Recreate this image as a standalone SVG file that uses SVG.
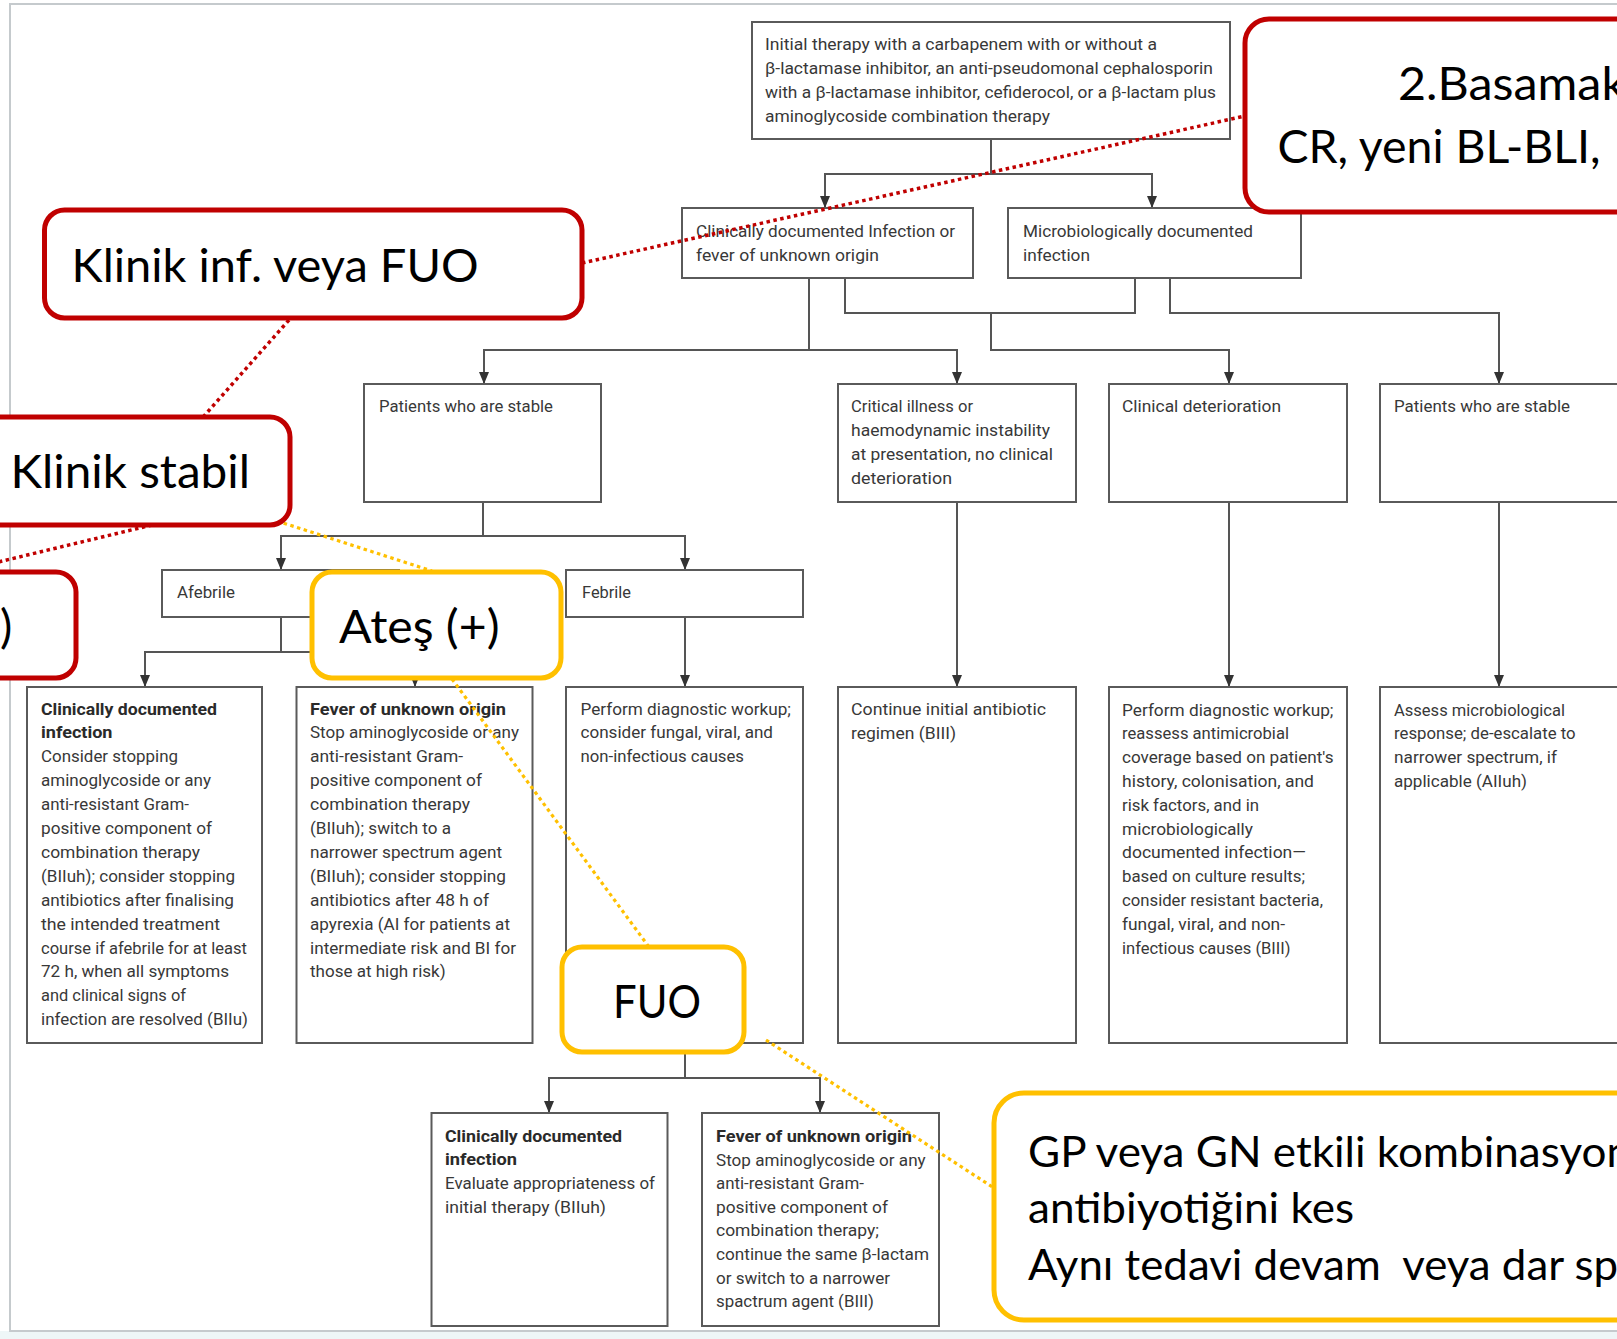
<svg xmlns="http://www.w3.org/2000/svg" width="1617" height="1339" viewBox="0 0 1617 1339">
<style>
.box{fill:#fff;stroke:#5a5a5a;stroke-width:2}
.t{font-family:"Liberation Sans Narrow","Roboto","Liberation Sans",sans-serif;font-size:16.5px;fill:#383838}
.b{font-weight:bold;fill:#2a2a2a}
.conn{fill:none;stroke:#555;stroke-width:2}
.cr{fill:#fff;stroke:#c00000;stroke-width:5}
.cy{fill:#fff;stroke:#ffc000;stroke-width:5}
.ct{font-family:Lato,"Open Sans","Noto Sans",sans-serif;font-size:46px;fill:#000}
.cs{font-size:42px}
.dr{fill:none;stroke:#c00000;stroke-width:3.5;stroke-dasharray:3.5 3.5}
.dy{fill:none;stroke:#ffc000;stroke-width:3.2;stroke-dasharray:3.5 3.5}
</style>
<defs>
<marker id="arr" viewBox="0 -5 12 10" refX="12" refY="0" markerWidth="12" markerHeight="10" markerUnits="userSpaceOnUse" orient="auto">
<path d="M0,-5 L12,0 L0,5 Z" fill="#333"/>
</marker>
</defs>
<rect x="0" y="0" width="1617" height="1339" fill="#fff"/>
<rect x="0" y="1331" width="1617" height="8" fill="#eef6f7"/>
<rect x="10" y="4" width="1620" height="1327" fill="none" stroke="#c5cacd" stroke-width="2"/>

<g id="connectors">
<path class="conn" d="M991,139 V174"/>
<path class="conn" d="M991,174 H825 V208" marker-end="url(#arr)"/>
<path class="conn" d="M991,174 H1152 V208" marker-end="url(#arr)"/>
<path class="conn" d="M809,278 V350 H484 V384" marker-end="url(#arr)"/>
<path class="conn" d="M809,350 H957 V384" marker-end="url(#arr)"/>
<path class="conn" d="M845,278 V313 H1135 V278"/>
<path class="conn" d="M991,313 V350 H1229 V384" marker-end="url(#arr)"/>
<path class="conn" d="M1170,278 V313 H1499 V384" marker-end="url(#arr)"/>
<path class="conn" d="M483,502 V536 H281 V570" marker-end="url(#arr)"/>
<path class="conn" d="M483,536 H685 V570" marker-end="url(#arr)"/>
<path class="conn" d="M281,617 V652 H145 V687" marker-end="url(#arr)"/>
<path class="conn" d="M281,652 H415 V687" marker-end="url(#arr)"/>
<path class="conn" d="M685,617 V687" marker-end="url(#arr)"/>
<path class="conn" d="M957,502 V687" marker-end="url(#arr)"/>
<path class="conn" d="M1229,502 V687" marker-end="url(#arr)"/>
<path class="conn" d="M1499,502 V687" marker-end="url(#arr)"/>
<path class="conn" d="M685,1043 V1078 H549 V1113" marker-end="url(#arr)"/>
<path class="conn" d="M685,1078 H820 V1113" marker-end="url(#arr)"/>
</g>

<g id="n-initial">
<rect class="box" x="752" y="22" width="478" height="117"/>
<text class="t" x="765" y="50" textLength="392" lengthAdjust="spacingAndGlyphs">Initial therapy with a carbapenem with or without a</text>
<text class="t" x="765" y="74" textLength="448" lengthAdjust="spacingAndGlyphs">β-lactamase inhibitor, an anti-pseudomonal cephalosporin</text>
<text class="t" x="765" y="98" textLength="451" lengthAdjust="spacingAndGlyphs">with a β-lactamase inhibitor, cefiderocol, or a β-lactam plus</text>
<text class="t" x="765" y="122" textLength="285" lengthAdjust="spacingAndGlyphs">aminoglycoside combination therapy</text>
</g>

<g id="n-clinical">
<rect class="box" x="682" y="208" width="291" height="70"/>
<text class="t" x="696" y="237" textLength="259" lengthAdjust="spacingAndGlyphs">Clinically documented Infection or</text>
<text class="t" x="696" y="261" textLength="183" lengthAdjust="spacingAndGlyphs">fever of unknown origin</text>
</g>

<g id="n-micro">
<rect class="box" x="1008" y="208" width="293" height="70"/>
<text class="t" x="1023" y="237" textLength="230" lengthAdjust="spacingAndGlyphs">Microbiologically documented</text>
<text class="t" x="1023" y="261" textLength="67" lengthAdjust="spacingAndGlyphs">infection</text>
</g>

<g id="n-stable-left">
<rect class="box" x="364" y="384" width="237" height="118"/>
<text class="t" x="379" y="412" textLength="174" lengthAdjust="spacingAndGlyphs">Patients who are stable</text>
</g>

<g id="n-critical">
<rect class="box" x="838" y="384" width="238" height="118"/>
<text class="t" x="851" y="412" textLength="122" lengthAdjust="spacingAndGlyphs">Critical illness or</text>
<text class="t" x="851" y="436" textLength="199" lengthAdjust="spacingAndGlyphs">haemodynamic instability</text>
<text class="t" x="851" y="460" textLength="202" lengthAdjust="spacingAndGlyphs">at presentation, no clinical</text>
<text class="t" x="851" y="484" textLength="101" lengthAdjust="spacingAndGlyphs">deterioration</text>
</g>

<g id="n-deterioration">
<rect class="box" x="1109" y="384" width="238" height="118"/>
<text class="t" x="1122" y="412" textLength="159" lengthAdjust="spacingAndGlyphs">Clinical deterioration</text>
</g>

<g id="n-stable-right">
<rect class="box" x="1380" y="384" width="240" height="118"/>
<text class="t" x="1394" y="412" textLength="176" lengthAdjust="spacingAndGlyphs">Patients who are stable</text>
</g>

<g id="n-afebrile">
<rect class="box" x="162" y="570" width="237" height="47"/>
<text class="t" x="177" y="598" textLength="58" lengthAdjust="spacingAndGlyphs">Afebrile</text>
</g>

<g id="n-febrile">
<rect class="box" x="566" y="570" width="237" height="47"/>
<text class="t" x="582" y="598" textLength="49" lengthAdjust="spacingAndGlyphs">Febrile</text>
</g>

<g id="n-afeb-cdi">
<rect class="box" x="27" y="687" width="235" height="356"/>
<text class="t b" x="41" y="714.5" textLength="176" lengthAdjust="spacingAndGlyphs">Clinically documented</text>
<text class="t b" x="41" y="738.4" textLength="71.5" lengthAdjust="spacingAndGlyphs">infection</text>
<text class="t" x="41" y="762.3" textLength="137" lengthAdjust="spacingAndGlyphs">Consider stopping</text>
<text class="t" x="41" y="786.2" textLength="170" lengthAdjust="spacingAndGlyphs">aminoglycoside or any</text>
<text class="t" x="41" y="810.1" textLength="148" lengthAdjust="spacingAndGlyphs">anti-resistant Gram-</text>
<text class="t" x="41" y="834" textLength="171" lengthAdjust="spacingAndGlyphs">positive component of</text>
<text class="t" x="41" y="857.9" textLength="159" lengthAdjust="spacingAndGlyphs">combination therapy</text>
<text class="t" x="41" y="881.8" textLength="194" lengthAdjust="spacingAndGlyphs">(BIIuh); consider stopping</text>
<text class="t" x="41" y="905.7" textLength="193" lengthAdjust="spacingAndGlyphs">antibiotics after finalising</text>
<text class="t" x="41" y="929.6" textLength="179" lengthAdjust="spacingAndGlyphs">the intended treatment</text>
<text class="t" x="41" y="953.5" textLength="206" lengthAdjust="spacingAndGlyphs">course if afebrile for at least</text>
<text class="t" x="41" y="977.4" textLength="188" lengthAdjust="spacingAndGlyphs">72 h, when all symptoms</text>
<text class="t" x="41" y="1001.3" textLength="145" lengthAdjust="spacingAndGlyphs">and clinical signs of</text>
<text class="t" x="41" y="1025.2" textLength="207" lengthAdjust="spacingAndGlyphs">infection are resolved (BIIu)</text>
</g>

<g id="n-afeb-fuo">
<rect class="box" x="296.5" y="687" width="236" height="356"/>
<text class="t b" x="310" y="714.5" textLength="196" lengthAdjust="spacingAndGlyphs">Fever of unknown origin</text>
<text class="t" x="310" y="738.4" textLength="209" lengthAdjust="spacingAndGlyphs">Stop aminoglycoside or any</text>
<text class="t" x="310" y="762.3" textLength="153" lengthAdjust="spacingAndGlyphs">anti-resistant Gram-</text>
<text class="t" x="310" y="786.2" textLength="172" lengthAdjust="spacingAndGlyphs">positive component of</text>
<text class="t" x="310" y="810.1" textLength="160" lengthAdjust="spacingAndGlyphs">combination therapy</text>
<text class="t" x="310" y="834" textLength="141" lengthAdjust="spacingAndGlyphs">(BIIuh); switch to a</text>
<text class="t" x="310" y="857.9" textLength="192" lengthAdjust="spacingAndGlyphs">narrower spectrum agent</text>
<text class="t" x="310" y="881.8" textLength="196" lengthAdjust="spacingAndGlyphs">(BIIuh); consider stopping</text>
<text class="t" x="310" y="905.7" textLength="179" lengthAdjust="spacingAndGlyphs">antibiotics after 48 h of</text>
<text class="t" x="310" y="929.6" textLength="200" lengthAdjust="spacingAndGlyphs">apyrexia (AI for patients at</text>
<text class="t" x="310" y="953.5" textLength="206" lengthAdjust="spacingAndGlyphs">intermediate risk and BI for</text>
<text class="t" x="310" y="977.4" textLength="135.6" lengthAdjust="spacingAndGlyphs">those at high risk)</text>
</g>

<g id="n-feb-workup">
<rect class="box" x="566" y="687" width="237" height="356"/>
<text class="t" x="580.5" y="714.5" textLength="210.5" lengthAdjust="spacingAndGlyphs">Perform diagnostic workup;</text>
<text class="t" x="580.5" y="738.4" textLength="192.5" lengthAdjust="spacingAndGlyphs">consider fungal, viral, and</text>
<text class="t" x="580.5" y="762.3" textLength="163.5" lengthAdjust="spacingAndGlyphs">non-infectious causes</text>
</g>

<g id="n-continue">
<rect class="box" x="838" y="687" width="238" height="356"/>
<text class="t" x="851" y="715" textLength="195" lengthAdjust="spacingAndGlyphs">Continue initial antibiotic</text>
<text class="t" x="851" y="738.9" textLength="105" lengthAdjust="spacingAndGlyphs">regimen (BIII)</text>
</g>

<g id="n-det-workup">
<rect class="box" x="1109" y="687" width="238" height="356"/>
<text class="t" x="1122" y="715.5" textLength="211.5" lengthAdjust="spacingAndGlyphs">Perform diagnostic workup;</text>
<text class="t" x="1122" y="739.3" textLength="167" lengthAdjust="spacingAndGlyphs">reassess antimicrobial</text>
<text class="t" x="1122" y="763.1" textLength="211.5" lengthAdjust="spacingAndGlyphs">coverage based on patient's</text>
<text class="t" x="1122" y="786.9" textLength="192" lengthAdjust="spacingAndGlyphs">history, colonisation, and</text>
<text class="t" x="1122" y="810.7" textLength="137" lengthAdjust="spacingAndGlyphs">risk factors, and in</text>
<text class="t" x="1122" y="834.5" textLength="131" lengthAdjust="spacingAndGlyphs">microbiologically</text>
<text class="t" x="1122" y="858.3" textLength="184" lengthAdjust="spacingAndGlyphs">documented infection—</text>
<text class="t" x="1122" y="882.1" textLength="183" lengthAdjust="spacingAndGlyphs">based on culture results;</text>
<text class="t" x="1122" y="905.9" textLength="201" lengthAdjust="spacingAndGlyphs">consider resistant bacteria,</text>
<text class="t" x="1122" y="929.7" textLength="163" lengthAdjust="spacingAndGlyphs">fungal, viral, and non-</text>
<text class="t" x="1122" y="953.5" textLength="168.6" lengthAdjust="spacingAndGlyphs">infectious causes (BIII)</text>
</g>

<g id="n-assess">
<rect class="box" x="1380" y="687" width="240" height="356"/>
<text class="t" x="1394" y="715.5" textLength="171" lengthAdjust="spacingAndGlyphs">Assess microbiological</text>
<text class="t" x="1394" y="739.3" textLength="181.6" lengthAdjust="spacingAndGlyphs">response; de-escalate to</text>
<text class="t" x="1394" y="763.1" textLength="163" lengthAdjust="spacingAndGlyphs">narrower spectrum, if</text>
<text class="t" x="1394" y="786.9" textLength="133" lengthAdjust="spacingAndGlyphs">applicable (AIIuh)</text>
</g>

<g id="n-feb-cdi">
<rect class="box" x="431.5" y="1113" width="236" height="213"/>
<text class="t b" x="445" y="1142" textLength="177" lengthAdjust="spacingAndGlyphs">Clinically documented</text>
<text class="t b" x="445" y="1165" textLength="72" lengthAdjust="spacingAndGlyphs">infection</text>
<text class="t" x="445" y="1189" textLength="210" lengthAdjust="spacingAndGlyphs">Evaluate appropriateness of</text>
<text class="t" x="445" y="1212.5" textLength="161" lengthAdjust="spacingAndGlyphs">initial therapy (BIIuh)</text>
</g>

<g id="n-feb-fuo">
<rect class="box" x="702" y="1113" width="237" height="213"/>
<text class="t b" x="716" y="1142" textLength="196" lengthAdjust="spacingAndGlyphs">Fever of unknown origin</text>
<text class="t" x="716" y="1165.6" textLength="209.7" lengthAdjust="spacingAndGlyphs">Stop aminoglycoside or any</text>
<text class="t" x="716" y="1189.2" textLength="148" lengthAdjust="spacingAndGlyphs">anti-resistant Gram-</text>
<text class="t" x="716" y="1212.8" textLength="172" lengthAdjust="spacingAndGlyphs">positive component of</text>
<text class="t" x="716" y="1236.4" textLength="163" lengthAdjust="spacingAndGlyphs">combination therapy;</text>
<text class="t" x="716" y="1260" textLength="213" lengthAdjust="spacingAndGlyphs">continue the same β-lactam</text>
<text class="t" x="716" y="1283.6" textLength="174" lengthAdjust="spacingAndGlyphs">or switch to a narrower</text>
<text class="t" x="716" y="1307.2" textLength="158" lengthAdjust="spacingAndGlyphs">spactrum agent (BIII)</text>
</g>

<g id="annotation-lines">
<path class="dr" d="M582,263 L1245,116"/>
<path class="dr" d="M289,320 L204,416"/>
<path class="dr" d="M152,525 L-10,564"/>
<path class="dy" d="M277,521 L432,571"/>
<path class="dy" d="M452,679 L649,947"/>
<path class="dy" d="M766,1040 L994,1188"/>
</g>

<g id="c-basamak">
<rect class="cr" x="1245" y="19" width="420" height="193" rx="24"/>
<text class="ct" x="1398" y="100" textLength="228" lengthAdjust="spacingAndGlyphs">2.Basamak</text>
<text class="ct" x="1277.5" y="163" textLength="323" lengthAdjust="spacingAndGlyphs">CR, yeni BL-BLI,</text>
</g>

<g id="c-klinik-inf">
<rect class="cr" x="44.5" y="210" width="537.5" height="108" rx="20"/>
<text class="ct" x="71.6" y="282" textLength="407" lengthAdjust="spacingAndGlyphs">Klinik inf. veya FUO</text>
</g>

<g id="c-klinik-stabil">
<rect class="cr" x="-40" y="417" width="330" height="108" rx="20"/>
<text class="ct" x="10.5" y="488" textLength="239.5" lengthAdjust="spacingAndGlyphs">Klinik stabil</text>
</g>

<g id="c-red-left">
<rect class="cr" x="-200" y="572" width="276" height="106" rx="20"/>
<text class="ct" x="0" y="643">)</text>
</g>

<g id="c-ates">
<rect class="cy" x="312" y="572" width="249" height="106" rx="20"/>
<text class="ct" x="339" y="643" textLength="160.5" lengthAdjust="spacingAndGlyphs">Ateş (+)</text>
</g>

<g id="c-fuo">
<rect class="cy" x="562" y="947" width="182" height="105" rx="20"/>
<text class="ct" x="613" y="1018" textLength="88" lengthAdjust="spacingAndGlyphs">FUO</text>
</g>

<g id="c-gp">
<rect class="cy" x="994" y="1093" width="700" height="227" rx="30"/>
<text class="ct cs" x="1028" y="1167" textLength="603" lengthAdjust="spacingAndGlyphs">GP veya GN etkili kombinasyon</text>
<text class="ct cs" x="1028" y="1223" textLength="326" lengthAdjust="spacingAndGlyphs">antibiyotiğini kes</text>
<text class="ct cs" x="1028" y="1280" textLength="590" lengthAdjust="spacingAndGlyphs" xml:space="preserve">Aynı tedavi devam  veya dar sp</text>
</g>
</svg>
